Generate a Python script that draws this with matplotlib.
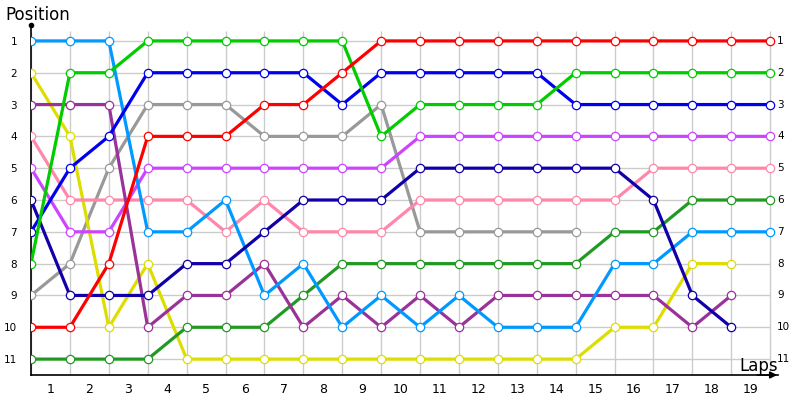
import matplotlib.pyplot as plt
import numpy as np

nan = np.nan

laps = list(range(20))
lap_labels = [str(i) for i in range(1, 20)]
positions = list(range(1, 12))

light_blue = [1, 1, 1, 7, 7, 6, 9, 8, 10, 9, 10, 9, 10, 10, 10, 8, 8, 7, 7, 7]
green = [8, 2, 2, 1, 1, 1, 1, 1, 1, 4, 3, 3, 3, 3, 2, 2, 2, 2, 2, 2]
blue = [7, 5, 4, 2, 2, 2, 2, 2, 3, 2, 2, 2, 2, 2, 3, 3, 3, 3, 3, 3]
red = [10, 10, 8, 4, 4, 4, 3, 3, 2, 1, 1, 1, 1, 1, 1, 1, 1, 1, 1, 1]
grey = [9, 8, 5, 3, 3, 3, 4, 4, 4, 3, 7, 7, 7, 7, 7, nan, nan, nan, nan, nan]
yellow = [2, 4, 10, 8, 11, 11, 11, 11, 11, 11, 11, 11, 11, 11, 11, 10, 10, 8, 8, nan]
purple = [3, 3, 3, 10, 9, 9, 8, 10, 9, 10, 9, 10, 9, 9, 9, 9, 9, 10, 9, nan]
dark_green = [11, 11, 11, 11, 10, 10, 10, 9, 8, 8, 8, 8, 8, 8, 8, 7, 7, 6, 6, 6]
violet = [5, 7, 7, 5, 5, 5, 5, 5, 5, 5, 4, 4, 4, 4, 4, 4, 4, 4, 4, 4]
pink = [4, 6, 6, 6, 6, 7, 6, 7, 7, 7, 6, 6, 6, 6, 6, 6, 5, 5, 5, 5]
navy = [6, 9, 9, 9, 8, 8, 7, 6, 6, 6, 5, 5, 5, 5, 5, 5, 6, 9, 10, nan]

series = [
    (grey, '#999999'),
    (yellow, '#dddd00'),
    (pink, '#ff88aa'),
    (violet, '#cc44ff'),
    (dark_green, '#229922'),
    (purple, '#993399'),
    (light_blue, '#0099ff'),
    (navy, '#1100aa'),
    (blue, '#0000ee'),
    (green, '#00cc00'),
    (red, '#ff0000'),
]

fig = plt.figure(figsize=(8, 4), dpi=100)
ax = fig.add_axes([31 / 800, 25 / 400, 747 / 800, 350 / 400])

ax.set_xlim(0, 19.2)
ax.set_ylim(11.5, 0.5)

# grid
ax.hlines(positions, 0, 19, color='#cccccc', lw=1, zorder=0)
ax.vlines(laps, 0.7, 11.5, color='#cccccc', lw=1, zorder=0)

for values, colour in series:
    ax.plot(laps, values, color=colour, lw=2.3, marker='o', markersize=6,
            markerfacecolor='white', markeredgecolor=colour, markeredgewidth=0.9,
            solid_capstyle='round', zorder=3)

ax.spines['top'].set_visible(False)
ax.spines['right'].set_visible(False)
ax.spines['left'].set_color('black')
ax.spines['bottom'].set_color('black')
ax.spines['left'].set_linewidth(1.2)
ax.spines['bottom'].set_linewidth(1.2)

ax.set_xticks([])
ax.set_xticks(np.arange(0.5, 19, 1), labels=lap_labels, minor=True)
ax.tick_params(axis='x', which='minor', length=0, pad=6, labelsize=9)
ax.set_yticks(positions, labels=[str(p) for p in positions])
ax.tick_params(axis='y', length=0, pad=10, labelsize=7.5)

for p in positions:
    ax.text(19.18, p, str(p), ha='left', va='center', fontsize=7.5)

# axis decorations
ax.plot([0], [0.5], marker='o', color='black', markersize=3, clip_on=False)
ax.annotate('', xy=(19.25, 11.5), xytext=(18.6, 11.5),
            arrowprops=dict(arrowstyle='-|>', color='black', lw=1.2),
            annotation_clip=False)
fig.text(5 / 800, 1 - 15 / 400, 'Position', fontsize=12, ha='left', va='center')
fig.text(759 / 800, 1 - 366 / 400, 'Laps', fontsize=12, ha='center', va='center')

fig.savefig('out.png', dpi=100)
